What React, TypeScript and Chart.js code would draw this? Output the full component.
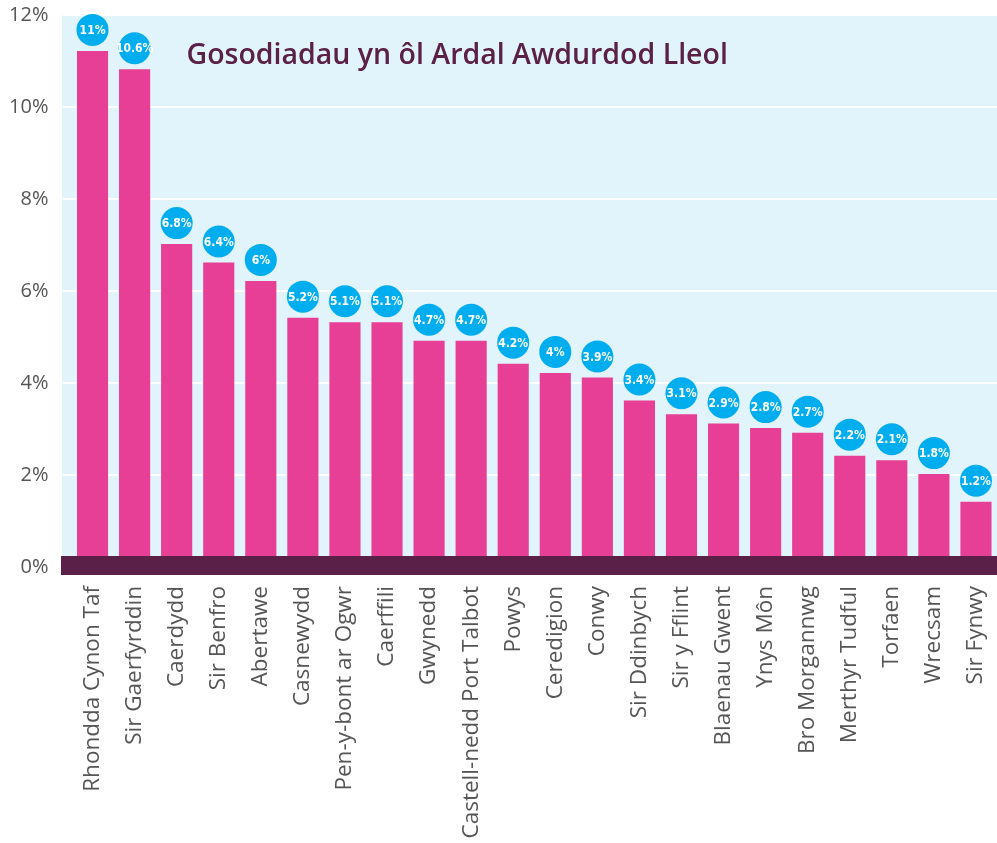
import React, { useEffect, useRef } from "react";
import { Chart, registerables } from "chart.js";

Chart.register(...registerables);

const CATEGORIES = [
  "Rhondda Cynon Taf",
  "Sir Gaerfyrddin",
  "Caerdydd",
  "Sir Benfro",
  "Abertawe",
  "Casnewydd",
  "Pen-y-bont ar Ogwr",
  "Caerffili",
  "Gwynedd",
  "Castell-nedd Port Talbot",
  "Powys",
  "Ceredigion",
  "Conwy",
  "Sir Ddinbych",
  "Sir y Fflint",
  "Blaenau Gwent",
  "Ynys Môn",
  "Bro Morgannwg",
  "Merthyr Tudful",
  "Torfaen",
  "Wrecsam",
  "Sir Fynwy",
];

const VALUES = [11, 10.6, 6.8, 6.4, 6, 5.2, 5.1, 5.1, 4.7, 4.7, 4.2, 4, 3.9, 3.4, 3.1, 2.9, 2.8, 2.7, 2.2, 2.1, 1.8, 1.2];

// bars in the original stand slightly above their labelled values
const BAR_LIFT = 0.22;

const Y_TICKS = [0, 2, 4, 6, 8, 10, 12];

const TITLE = "Gosodiadau yn ôl Ardal Awdurdod Lleol";

const BG = "#e1f3fb";
const PINK = "#e63f95";
const PURPLE = "#5a2048";
const CYAN = "#00adee";

export default function App() {
  const ref = useRef<HTMLCanvasElement | null>(null);

  useEffect(() => {
    document.body.style.margin = "0";
    const canvas = ref.current;
    if (!canvas) return;

    const decor = {
      id: "decor",
      beforeDraw(chart: any) {
        const { ctx, chartArea } = chart;
        ctx.save();
        ctx.fillStyle = BG;
        ctx.fillRect(chartArea.left - 9.5, chartArea.top - 1, chartArea.right - chartArea.left + 9.5, chartArea.bottom - chartArea.top + 1);
        ctx.restore();
      },
      afterDatasetsDraw(chart: any) {
        const { ctx, chartArea, scales } = chart;
        const y0 = scales.y.getPixelForValue(0);
        ctx.save();
        ctx.fillStyle = PURPLE;
        ctx.fillRect(chartArea.left - 10.5, y0 - 11, chartArea.right - chartArea.left + 10.5, 19);

        // title
        ctx.fillStyle = PURPLE;
        ctx.font = "600 28.5px 'Open Sans'";
        ctx.textAlign = "left";
        ctx.textBaseline = "alphabetic";
        ctx.fillText(TITLE, chartArea.left + 115, chartArea.top + 49);

        // value bubbles
        const meta = chart.getDatasetMeta(0);
        meta.data.forEach((bar: any, i: number) => {
          const cx = bar.x;
          const cy = bar.y - 21;
          ctx.beginPath();
          ctx.fillStyle = CYAN;
          ctx.arc(cx, cy, 16, 0, Math.PI * 2);
          ctx.fill();
          ctx.fillStyle = "#ffffff";
          ctx.font = "bold 12px 'DejaVu Sans Condensed'";
          ctx.textAlign = "center";
          ctx.textBaseline = "middle";
          ctx.fillText(VALUES[i] + "%", cx, cy + 1);
        });
        ctx.restore();
      },
    };

    const chart = new Chart(canvas, {
      type: "bar",
      data: {
        labels: CATEGORIES,
        datasets: [
          {
            data: VALUES.map((v) => v + BAR_LIFT),
            backgroundColor: PINK,
            barPercentage: 0.74,
            categoryPercentage: 1,
          },
        ],
      },
      options: {
        responsive: false,
        animation: false,
        layout: { padding: { top: 15, right: 0, bottom: 0, left: 0 } },
        plugins: {
          legend: { display: false },
          tooltip: { enabled: false },
          title: { display: false },
        },
        scales: {
          x: {
            grid: { display: false, drawTicks: false },
            border: { display: false },
            afterFit(scale: any) {
              scale.height = 276;
              scale.paddingLeft = 0;
              scale.paddingRight = 0;
            },
            ticks: {
              minRotation: 90,
              maxRotation: 90,
              padding: 19,
              color: "#555555",
              font: { family: "'Open Sans'", size: 22.5 },
            },
          },
          y: {
            min: 0,
            max: 12,
            afterBuildTicks(scale: any) {
              scale.ticks = Y_TICKS.map((v) => ({ value: v }));
            },
            afterFit(scale: any) {
              scale.width = 71.5;
              scale.paddingTop = 0;
              scale.paddingBottom = 0;
            },
            grid: { color: "#ffffff", lineWidth: 2, drawTicks: true, tickLength: 9 },
            border: { display: false },
            ticks: {
              padding: 14,
              color: "#555555",
              font: { family: "'Open Sans'", size: 20 },
              callback: (v: any) => v + "%",
            },
          },
        },
      },
      plugins: [decor],
    });

    return () => chart.destroy();
  }, []);

  return (
    <div style={{ width: 997, height: 843 }}>
      <canvas ref={ref} width={997} height={843} style={{ display: "block" }} />
    </div>
  );
}
